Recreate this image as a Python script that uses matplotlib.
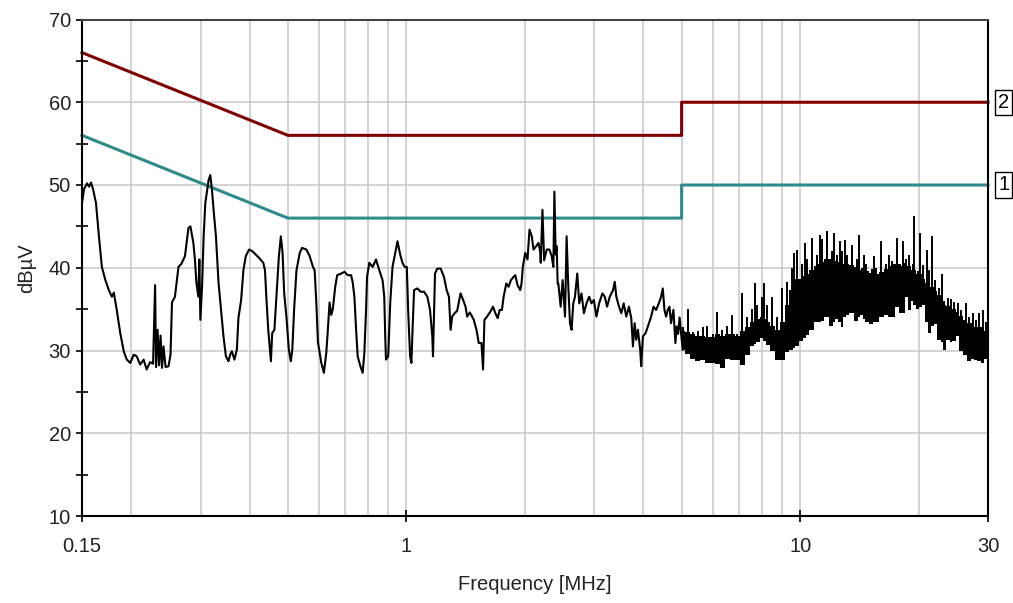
import numpy as np
import matplotlib.pyplot as plt
from matplotlib.ticker import FixedLocator, NullLocator
from matplotlib.transforms import blended_transform_factory

plt.rcParams['font.family'] = ['Liberation Sans', 'DejaVu Sans']

# Limit lines: quasi-peak (2) and average (1)
limit_f = [0.15, 0.5, 5.0, 5.0, 30.0]
qp_limit = [66, 56, 56, 60, 60]
avg_limit = [56, 46, 46, 50, 50]

# Measured spectrum below 5 MHz (MHz, dBuV)
trace_f = [
    0.150, 0.1518, 0.1545, 0.1563, 0.1581, 0.1600, 0.1628, 0.1656, 0.1685, 0.1720,
    0.1755, 0.1786, 0.1807, 0.1838, 0.1876, 0.1915, 0.1949, 0.1989, 0.2030, 0.2065,
    0.2108, 0.2151, 0.2189, 0.2234, 0.2273, 0.2300, 0.2313, 0.2334, 0.2354, 0.2375,
    0.2395, 0.2416, 0.2445, 0.2488, 0.2517, 0.2539, 0.2583, 0.2637, 0.2684, 0.2739,
    0.2795, 0.2828, 0.2877, 0.2903, 0.2928, 0.2962, 0.2979, 0.2997, 0.3027, 0.3055,
    0.3085, 0.3145, 0.3176, 0.3208, 0.3238, 0.3283, 0.3333, 0.3386, 0.3431, 0.3480,
    0.3533, 0.3568, 0.3603, 0.3658, 0.3710, 0.3744, 0.3804, 0.3855, 0.3909, 0.3985,
    0.4062, 0.4143, 0.4223, 0.4330, 0.4373, 0.4416, 0.4458, 0.4502, 0.4528, 0.4562,
    0.4621, 0.4681, 0.4744, 0.4799, 0.4847, 0.4892, 0.4961, 0.5028, 0.5087, 0.5131,
    0.5185, 0.5258, 0.5360, 0.5432, 0.5572, 0.5680, 0.5790, 0.5847, 0.5905, 0.5961,
    0.6080, 0.6172, 0.6259, 0.6317, 0.6380, 0.6443, 0.6503, 0.6595, 0.6672, 0.6829,
    0.6962, 0.7097, 0.7238, 0.7306, 0.7378, 0.7452, 0.7521, 0.7640, 0.7743, 0.7820,
    0.7898, 0.7944, 0.8051, 0.8207, 0.8371, 0.8534, 0.8699, 0.8785, 0.8836, 0.8873,
    0.8992, 0.9098, 0.9220, 0.9404, 0.9492, 0.9642, 0.9772, 0.9898, 1.0025, 1.0101,
    1.0220, 1.0297, 1.0369, 1.0460, 1.0663, 1.0875, 1.1087, 1.1302, 1.1481, 1.1636,
    1.1683, 1.1751, 1.1820, 1.1979, 1.2219, 1.2455, 1.2653, 1.2823, 1.2950, 1.3071,
    1.3255, 1.3457, 1.3726, 1.3935, 1.4131, 1.4263, 1.4489, 1.4684, 1.4830, 1.5065,
    1.5268, 1.5510, 1.5655, 1.5783, 1.6024, 1.6344, 1.6593, 1.6826, 1.7053, 1.7252,
    1.7484, 1.7658, 1.7937, 1.8179, 1.8424, 1.8716, 1.8902, 1.9156, 1.9460, 1.9608,
    1.9757, 2.0034, 2.0304, 2.0542, 2.0819, 2.1026, 2.1359, 2.1647, 2.1862, 2.1939,
    2.2157, 2.2377, 2.2718, 2.3078, 2.3389, 2.3621, 2.3759, 2.3939, 2.4078, 2.4219,
    2.4318, 2.4645, 2.4933, 2.5284, 2.5520, 2.5774, 2.6030, 2.6273, 2.6534, 2.6798,
    2.7159, 2.7477, 2.7846, 2.8237, 2.8667, 2.9121, 2.9513, 2.9928, 3.0383, 3.0864,
    3.1462, 3.1904, 3.2334, 3.2847, 3.3483, 3.3817, 3.4133, 3.4674, 3.5140, 3.5634,
    3.6177, 3.6751, 3.7246, 3.7616, 3.7989, 3.8344, 3.8726, 3.9246, 3.9475, 3.9867,
    4.0499, 4.1044, 4.1839, 4.2427, 4.3074, 4.3756, 4.4345, 4.4786, 4.5231, 4.5654,
    4.6107, 4.6566, 4.7001, 4.7661, 4.8218, 4.8584, 4.8978, 4.9413,
]
trace_db = [
    47.8, 49.5, 50.2, 49.8, 50.3, 49.5, 47.8, 43.8, 40.1, 38.5,
    37.3, 36.5, 37.0, 34.9, 32.1, 29.9, 28.9, 28.5, 29.5, 29.3,
    28.3, 28.9, 27.7, 28.6, 28.4, 37.9, 28.0, 32.5, 28.2, 31.8,
    27.9, 30.5, 28.0, 28.1, 29.5, 35.8, 36.5, 40.1, 40.5, 41.4,
    44.8, 45.0, 43.0, 41.0, 38.2, 36.5, 41.0, 33.7, 37.7, 43.8,
    47.8, 50.6, 51.2, 49.4, 47.0, 43.8, 38.2, 34.6, 31.7, 29.3,
    28.7, 29.5, 29.9, 28.9, 30.1, 33.9, 36.1, 39.7, 41.4, 42.2,
    42.0, 41.6, 41.2, 40.6, 39.7, 35.8, 32.5, 30.1, 28.7, 32.1,
    32.5, 36.9, 41.4, 43.8, 41.8, 37.0, 33.9, 30.1, 28.7, 30.1,
    34.9, 39.7, 41.8, 42.4, 42.2, 41.4, 40.1, 39.7, 35.8, 31.0,
    28.5, 27.3, 29.7, 32.5, 35.8, 34.3, 35.0, 37.7, 39.1, 39.3,
    39.5, 39.1, 39.1, 38.2, 36.5, 32.5, 29.3, 28.1, 27.3, 29.7,
    34.9, 38.9, 40.6, 40.1, 41.0, 39.7, 38.5, 36.5, 31.7, 28.9,
    29.3, 35.8, 40.1, 42.2, 43.2, 41.6, 40.6, 40.1, 40.1, 34.9,
    29.3, 28.5, 32.7, 37.3, 37.5, 37.1, 37.1, 36.5, 34.9, 31.7,
    29.3, 34.5, 39.3, 39.9, 39.9, 38.9, 37.3, 36.5, 32.5, 34.1,
    34.5, 34.8, 36.9, 36.1, 35.3, 34.1, 34.6, 34.1, 33.7, 32.5,
    30.9, 30.9, 27.7, 33.7, 34.1, 34.7, 35.3, 34.5, 33.9, 34.9,
    34.9, 36.5, 38.1, 37.7, 38.5, 38.9, 39.1, 37.9, 37.3, 38.1,
    40.1, 41.8, 41.0, 44.6, 43.8, 42.2, 42.6, 43.0, 42.0, 40.6,
    47.0, 40.9, 42.2, 42.2, 41.4, 40.1, 49.2, 41.6, 42.6, 38.1,
    38.1, 35.3, 38.5, 34.1, 43.8, 37.7, 33.3, 32.5, 35.7, 36.5,
    39.3, 35.7, 36.9, 34.5, 35.7, 36.5, 35.7, 36.1, 34.1, 35.7,
    36.9, 36.5, 35.3, 36.5, 37.3, 38.3, 36.5, 35.3, 34.5, 35.7,
    34.1, 35.3, 33.9, 30.5, 33.3, 31.3, 32.5, 30.1, 28.1, 31.7,
    32.1, 32.9, 34.1, 35.3, 34.9, 35.7, 36.5, 37.5, 34.9, 34.1,
    34.9, 35.3, 33.3, 34.9, 30.9, 32.9, 32.0, 34.0,
]

# Above 5 MHz the sweep is dense: spike tops, top of the solid band, troughs
dense_f = [
    5.03, 5.18, 5.33, 5.49, 5.65, 5.81, 5.99, 6.16, 6.35, 6.53,
    6.73, 6.92, 7.13, 7.34, 7.55, 7.69, 7.78, 8.01, 8.10, 8.24,
    8.49, 8.74, 9.00, 9.26, 9.53, 9.64, 9.81, 10.10, 10.28, 10.40,
    10.71, 11.02, 11.22, 11.35, 11.68, 12.03, 12.17, 12.38, 12.60, 12.75,
    12.97, 13.13, 13.51, 13.91, 14.07, 14.32, 14.57, 14.74, 15.18, 15.36,
    15.62, 16.09, 16.56, 16.85, 17.15, 17.65, 17.96, 18.28, 18.60, 18.93,
    19.38, 19.49, 19.94, 20.17, 20.53, 21.01, 21.27, 21.64, 22.02, 22.54,
    22.93, 23.20, 23.75, 24.16, 24.59, 25.17, 25.61, 26.37, 26.83, 27.47,
    27.96, 28.45, 29.11, 29.60,
]
dense_hi = [
    32.8, 35.0, 32.2, 32.3, 32.8, 33.0, 32.0, 34.6, 32.5, 33.0,
    34.3, 32.0, 36.9, 34.0, 35.0, 38.1, 35.5, 36.5, 38.1, 35.5,
    36.5, 34.0, 37.5, 38.3, 40.0, 41.8, 42.2, 40.5, 43.0, 41.0,
    43.6, 41.5, 44.0, 43.5, 44.4, 42.0, 44.2, 41.5, 43.2, 42.0,
    43.4, 41.5, 42.8, 41.0, 44.0, 40.0, 41.6, 40.5, 39.8, 41.4,
    40.0, 43.2, 40.5, 41.6, 40.8, 43.6, 40.5, 43.2, 41.0, 41.5,
    40.5, 46.2, 39.6, 44.2, 40.3, 42.2, 39.7, 43.8, 38.5, 37.6,
    39.3, 36.0, 36.3, 36.2, 35.9, 35.7, 34.9, 35.7, 34.1, 34.5,
    33.7, 34.5, 34.9, 33.5,
]
dense_top = [
    32.3, 32.2, 32.0, 31.8, 31.8, 31.6, 31.6, 32.0, 31.8, 32.0,
    32.0, 31.8, 32.3, 32.8, 33.5, 33.8, 33.8, 34.0, 33.8, 33.5,
    33.0, 32.5, 33.5, 35.5, 37.3, 37.8, 38.7, 38.7, 39.0, 39.2,
    39.7, 40.2, 40.5, 40.7, 41.0, 41.0, 40.9, 40.8, 40.7, 40.6,
    40.5, 40.4, 40.3, 40.1, 40.1, 39.7, 39.7, 39.6, 39.4, 39.4,
    39.3, 39.5, 39.8, 40.2, 40.4, 40.5, 40.2, 40.6, 40.2, 40.2,
    39.7, 39.7, 39.2, 39.2, 38.7, 38.2, 37.7, 37.7, 37.2, 36.7,
    36.7, 35.5, 35.4, 35.2, 35.0, 34.7, 34.2, 33.7, 33.3, 33.3,
    32.8, 32.8, 32.8, 32.3,
]
dense_lo = [
    30.1, 29.6, 29.0, 28.7, 28.9, 28.5, 28.5, 28.4, 27.9, 29.0,
    28.8, 28.9, 28.3, 29.5, 30.5, 30.8, 31.0, 31.5, 31.2, 30.7,
    30.0, 28.8, 28.9, 29.8, 30.1, 30.3, 30.5, 31.2, 31.5, 31.9,
    32.5, 33.5, 33.5, 33.6, 34.0, 33.0, 33.4, 33.8, 33.5, 32.8,
    34.0, 34.3, 34.5, 33.6, 34.0, 34.3, 33.8, 33.5, 33.2, 33.4,
    33.5, 34.0, 34.3, 34.0, 34.0, 35.3, 34.5, 34.5, 36.5, 34.9,
    36.0, 35.5, 35.0, 35.2, 35.5, 33.5, 32.1, 33.0, 33.2, 31.3,
    31.0, 30.1, 31.3, 31.0, 31.1, 31.7, 30.0, 29.5, 28.7, 29.0,
    28.8, 28.7, 28.5, 29.0,
]

grid_f = [0.2, 0.3, 0.4, 0.5, 0.6, 0.7, 0.8, 0.9, 1, 2, 3, 4, 5, 6, 7, 8, 9, 10, 20]
grid_db = [20, 30, 40, 50, 60]

W, H = 1013, 603
fig = plt.figure(figsize=(W / 100, H / 100), dpi=100)
ax = fig.add_axes([82 / W, 1 - 516 / H, (988 - 82) / W, (516 - 19.5) / H])
ax.set_xscale('log')
ax.set_xlim(0.15, 30)
ax.set_ylim(10, 70)

for f in grid_f:
    ax.axvline(f, color='#c8c8c8', lw=1.1, zorder=0)
for d in grid_db:
    ax.axhline(d, color='#c8c8c8', lw=1.1, zorder=0)

ax.plot(limit_f, qp_limit, color='#800000', lw=2.2, zorder=2, clip_on=False)
ax.plot(limit_f, avg_limit, color='#2e8b8b', lw=2.2, zorder=2, clip_on=False)

# low band: ordinary trace, joined to the first dense sample
line_f = list(trace_f) + [dense_f[0]]
line_db = list(trace_db) + [dense_lo[0]]
ax.plot(line_f, line_db, color='black', lw=1.5, zorder=3)

# dense part: solid band plus a stroke from each trough to its spike top
ax.fill_between(dense_f, dense_lo, dense_top, step='mid', color='black', lw=0, zorder=3)
ax.vlines(dense_f, dense_lo, dense_hi, color='black', lw=1.4, zorder=3)

# boxed limit labels at the right edge
trans = blended_transform_factory(ax.transAxes, ax.transData)
for lbl, lvl in [('2', qp_limit[-1]), ('1', avg_limit[-1])]:
    ax.text(1.0175, lvl, lbl, transform=trans, ha='center', va='center',
            fontsize=14.5, clip_on=False,
            bbox=dict(boxstyle='square,pad=0.15', fc='white', ec='black', lw=1.0))

fs = 14.5
ax.set_xticks([0.15, 1, 10, 30])
ax.set_xticklabels(['0.15', '1', '10', '30'])
ax.xaxis.set_minor_locator(NullLocator())
ax.set_yticks(range(10, 71, 10))
ax.yaxis.set_minor_locator(FixedLocator(range(15, 70, 10)))
ax.tick_params(axis='x', which='major', direction='inout', length=8, width=1.2,
               pad=11, labelsize=fs, colors='black', labelcolor='#222222')
ax.tick_params(axis='y', which='major', direction='out', length=4, width=1.2,
               pad=4, labelsize=fs, labelcolor='#222222')
ax.tick_params(axis='y', which='minor', direction='inout', length=8, width=1.2)

for s in ax.spines.values():
    s.set_linewidth(1.5)
    s.set_color('black')
ax.spines['top'].set_color('#444444')

fig.text(535 / W, 1 - 584 / H, 'Frequency [MHz]', ha='center', va='center',
         fontsize=fs, color='#222222')
fig.text(27 / W, 1 - 268 / H, 'dBµV', ha='center', va='center', rotation=90,
         fontsize=fs, color='#222222')

fig.savefig('out.png', dpi=100)
